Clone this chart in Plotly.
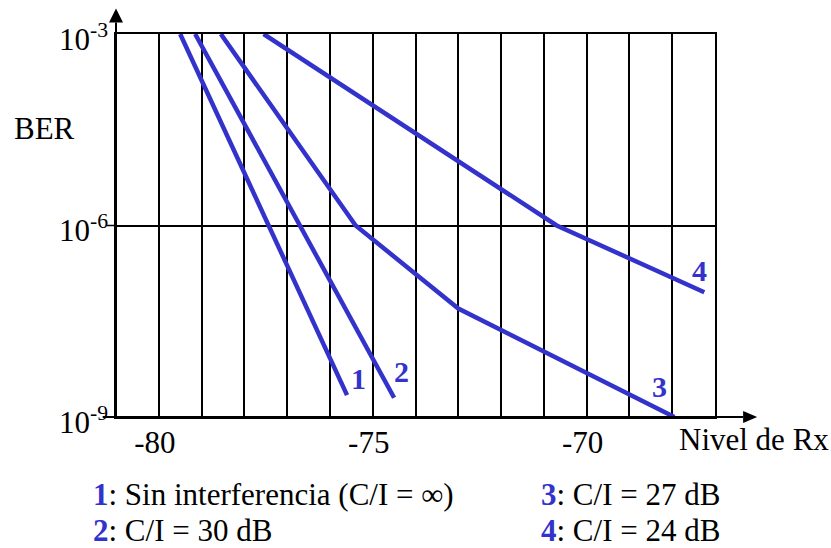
import math
import plotly.graph_objects as go

# ---- data ----
x_ticks = list(range(-81, -66))          # vertical grid every 1 dB
x_labels = {-80: "-80", -75: "-75", -70: "-70"}
y_ticks = [1e-9, 1e-6, 1e-3]
y_labels = ["10<sup>-9</sup>", "10<sup>-6</sup>", "10<sup>-3</sup>"]

s1_x = [-79.50, -75.60]
s1_ber = [1e-3, 2.2e-9]
s2_x = [-79.15, -74.50]
s2_ber = [1e-3, 2.0e-9]
s3_x = [-78.55, -75.40, -73.00, -67.95]
s3_ber = [1e-3, 1e-6, 5e-8, 1e-9]
s4_x = [-77.55, -70.70, -67.25]
s4_ber = [1e-3, 1e-6, 9e-8]

series_names = ["1", "2", "3", "4"]
legend_texts = ["Sin interferencia (C/I = \u221e)", "C/I = 30 dB", "C/I = 27 dB", "C/I = 24 dB"]

BLUE = "#3333CC"
FONT = "Liberation Serif, Times New Roman, serif"
FS = 31

fig = go.Figure()
all_x = [s1_x, s2_x, s3_x, s4_x]
all_y = [s1_ber, s2_ber, s3_ber, s4_ber]
for xs, ys, nm in zip(all_x, all_y, series_names):
    fig.add_trace(go.Scatter(x=xs, y=ys, mode="lines", name=nm,
                             line=dict(color=BLUE, width=4.5),
                             cliponaxis=False, showlegend=False))

# curve number labels next to each curve end
label_shift = [(11, 17), (7, 26), (-15, 31), (-5, 22)]
for xs, ys, nm, (dx, dy) in zip(all_x, all_y, series_names, label_shift):
    fig.add_annotation(x=xs[-1], y=math.log10(ys[-1]), xref="x", yref="y",
                       text="<b>%s</b>" % nm, showarrow=False,
                       xshift=dx, yshift=dy,
                       font=dict(family=FONT, size=30, color=BLUE))

fig.update_xaxes(range=[-81, -67], tickvals=x_ticks,
                 ticktext=[x_labels.get(v, "") for v in x_ticks],
                 showgrid=True, gridcolor="black", gridwidth=1.5,
                 showline=True, mirror=True, linecolor="black", linewidth=1.5,
                 zeroline=False, ticks="",
                 ticklabelshift=-4, ticklabelstandoff=-3,
                 tickfont=dict(family=FONT, size=FS, color="black"))
fig.update_yaxes(type="log", range=[-9, -3], tickvals=y_ticks, ticktext=y_labels,
                 showgrid=True, gridcolor="black", gridwidth=1.5,
                 showline=True, mirror=True, linecolor="black", linewidth=1.5,
                 zeroline=False, ticks="",
                 ticklabelshift=5, ticklabelstandoff=0,
                 tickfont=dict(family=FONT, size=FS, color="black"))

shapes = [
    dict(type="line", xref="paper", yref="paper", x0=-0.0222, x1=1.047, y0=0, y1=0,
         line=dict(color="black", width=2)),
    dict(type="line", xref="paper", yref="paper", x0=0, x1=0, y0=0, y1=1.03,
         line=dict(color="black", width=2)),
    dict(type="line", xref="paper", yref="paper", x0=-0.015, x1=0, y0=0.5, y1=0.5,
         line=dict(color="black", width=1.5)),
    dict(type="path", xref="paper", yref="paper", xsizemode="pixel", ysizemode="pixel",
         xanchor=1.047, yanchor=0, path="M 0,6 L 0,-6 L 14,0 Z",
         fillcolor="black", line=dict(color="black", width=0)),
    dict(type="path", xref="paper", yref="paper", xsizemode="pixel", ysizemode="pixel",
         xanchor=0, yanchor=1.03, path="M -7,0 L 7,0 L 0,14 Z",
         fillcolor="black", line=dict(color="black", width=0)),
]
fig.update_layout(shapes=shapes)

fig.add_annotation(x=1.1937, y=-0.06, xref="paper", yref="paper", xanchor="right", yanchor="middle",
                   text="Nivel de Rx", showarrow=False,
                   font=dict(family=FONT, size=FS, color="black"))
fig.add_annotation(x=-0.12, y=0.752, xref="paper", yref="paper", xanchor="center", yanchor="middle",
                   text="BER", showarrow=False,
                   font=dict(family=FONT, size=FS, color="black"))

leg_pos = [(-0.041, -0.203), (-0.041, -0.296), (0.706, -0.203), (0.706, -0.296)]
for nm, txt, (lx, ly) in zip(series_names, legend_texts, leg_pos):
    fig.add_annotation(x=lx, y=ly, xref="paper", yref="paper", xanchor="left", yanchor="middle",
                       text="<b><span style='color:%s'>%s</span></b>: %s" % (BLUE, nm, txt),
                       showarrow=False, align="left",
                       font=dict(family=FONT, size=FS, color="black"))

fig.update_layout(width=831, height=548,
                  margin=dict(l=116, r=116, t=34, b=131, pad=0),
                  paper_bgcolor="white", plot_bgcolor="white",
                  showlegend=False)

fig.write_html("out.html", config={"displayModeBar": False},
               post_script="document.body.style.margin='0';document.body.style.padding='0';document.body.style.overflow='hidden';")
